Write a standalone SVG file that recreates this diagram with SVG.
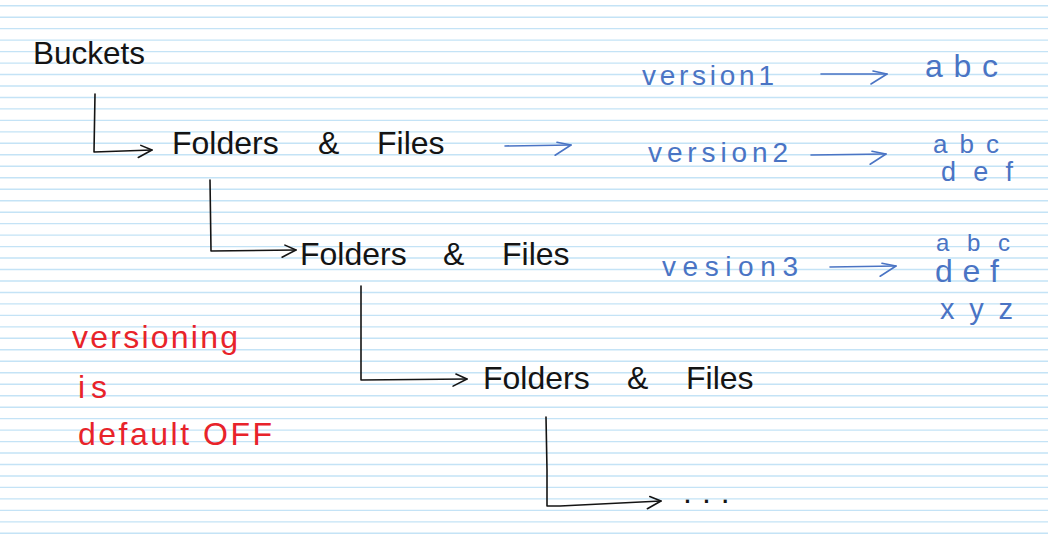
<svg xmlns="http://www.w3.org/2000/svg" width="1048" height="536" viewBox="0 0 1048 536">
<defs>
<style>
.paper{stroke:#c4e3f6;stroke-width:1.4;fill:none}
.ink{stroke:#141414;stroke-width:1.6;fill:none;stroke-linecap:round;stroke-linejoin:round}
.blue{stroke:#4a74c4;stroke-width:1.6;fill:none;stroke-linecap:round;stroke-linejoin:round}
.tk{font-family:"Liberation Sans",Arial,sans-serif;fill:#141414;font-size:32px}
.tb{font-family:"Liberation Sans",Arial,sans-serif;fill:#4a74c4}
.tr{font-family:"Liberation Sans",Arial,sans-serif;fill:#e8232a;font-size:32px}
</style>
<marker id="ah-k" viewBox="-16 -9 18 18" refX="0" refY="0" markerWidth="18" markerHeight="18" markerUnits="userSpaceOnUse" orient="auto">
<path d="M-11,-5 L0,0 L-14,7" fill="none" stroke="#141414" stroke-width="1.6" stroke-linecap="round" stroke-linejoin="round"/>
</marker>
<marker id="ah-b" viewBox="-20 -9 22 22" refX="0" refY="0" markerWidth="22" markerHeight="22" markerUnits="userSpaceOnUse" orient="auto">
<path d="M-14,-3 L0,0 L-16,10" fill="none" stroke="#4a74c4" stroke-width="1.6" stroke-linecap="round" stroke-linejoin="round"/>
</marker>
</defs>
<rect width="1048" height="536" fill="#ffffff"/>
<path class="paper" d="M0,5.7H1048M0,17.2H1048M0,28.6H1048M0,40.1H1048M0,51.6H1048M0,63.1H1048M0,74.5H1048M0,86H1048M0,97.5H1048M0,108.9H1048M0,120.4H1048M0,131.9H1048M0,143.3H1048M0,154.8H1048M0,166.3H1048M0,177.8H1048M0,189.2H1048M0,200.7H1048M0,212.2H1048M0,223.6H1048M0,235.1H1048M0,246.6H1048M0,258H1048M0,269.5H1048M0,281H1048M0,292.5H1048M0,303.9H1048M0,315.4H1048M0,326.9H1048M0,338.3H1048M0,349.8H1048M0,361.3H1048M0,372.7H1048M0,384.2H1048M0,395.7H1048M0,407.2H1048M0,418.6H1048M0,430.1H1048M0,441.6H1048M0,453H1048M0,464.5H1048M0,476H1048M0,487.4H1048M0,498.9H1048M0,510.4H1048M0,521.9H1048M0,533.3H1048"/>

<g id="connectors">
<path class="ink" d="M95,94 L94,152 L152,150" marker-end="url(#ah-k)"/>
<path class="ink" d="M210,180 L211,251 L296,250" marker-end="url(#ah-k)"/>
<path class="ink" d="M361,286 L361,380 L467,379" marker-end="url(#ah-k)"/>
<path class="ink" d="M546,417 L547,470 L547,506 L560,506 L661,501" marker-end="url(#ah-k)"/>
<path class="blue" d="M505,146 L571,145" marker-end="url(#ah-b)"/>
<path class="blue" d="M821,74 L887,74" marker-end="url(#ah-b)"/>
<path class="blue" d="M811,155 L886,154" marker-end="url(#ah-b)"/>
<path class="blue" d="M830,267 L896,266" marker-end="url(#ah-b)"/>
</g>

<g id="buckets"><text class="tk" x="33" y="64" font-size="31" textLength="112" lengthAdjust="spacingAndGlyphs">Buckets</text></g>

<g id="folders1"><text class="tk" y="154"><tspan x="172">Folders</tspan><tspan x="318">&amp;</tspan><tspan x="377">Files</tspan></text></g>
<g id="folders2"><text class="tk" y="265"><tspan x="300">Folders</tspan><tspan x="443">&amp;</tspan><tspan x="502">Files</tspan></text></g>
<g id="folders3"><text class="tk" y="389"><tspan x="483">Folders</tspan><tspan x="627">&amp;</tspan><tspan x="686">Files</tspan></text></g>
<g id="more"><text class="tk" x="683" y="503" font-size="22" letter-spacing="10">...</text></g>

<g id="version1">
<text class="tb" x="642" y="85" font-size="28" textLength="132" lengthAdjust="spacing">version1</text>
<text class="tb" x="925" y="77" font-size="32" textLength="73" lengthAdjust="spacing">abc</text>
</g>
<g id="version2">
<text class="tb" x="648" y="162" font-size="28" textLength="140" lengthAdjust="spacing">version2</text>
<text class="tb" x="933" y="153" font-size="26" textLength="66" lengthAdjust="spacing">abc</text>
<text class="tb" x="941" y="181" font-size="27" textLength="72" lengthAdjust="spacing">def</text>
</g>
<g id="version3">
<text class="tb" x="662" y="276" font-size="28" textLength="136" lengthAdjust="spacing">vesion3</text>
<text class="tb" x="936" y="251" font-size="24" textLength="74" lengthAdjust="spacing">abc</text>
<text class="tb" x="935" y="282" font-size="32" textLength="64" lengthAdjust="spacing">def</text>
<text class="tb" x="940" y="319" font-size="29" textLength="73" lengthAdjust="spacing">xyz</text>
</g>

<g id="note">
<text class="tr" x="72" y="348" textLength="166" lengthAdjust="spacing">versioning</text>
<text class="tr" x="78" y="398" textLength="29" lengthAdjust="spacing">is</text>
<text class="tr" x="78" y="445" textLength="194" lengthAdjust="spacing">default OFF</text>
</g>
</svg>
